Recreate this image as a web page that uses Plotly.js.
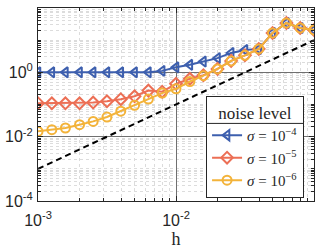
<!DOCTYPE html>
<html>
<head>
<meta charset="utf-8">
<script src="https://cdn.plot.ly/plotly-3.0.1.min.js"></script>
<style>
html,body{margin:0;padding:0;background:#fff;}
#chart{width:326px;height:249px;}
</style>
</head>
<body>
<div id="chart"></div>
<script>
// step sizes h
const h = [0.001, 0.00126, 0.00158, 0.002, 0.00251, 0.00316, 0.00398, 0.00501, 0.00631, 0.00794,
           0.01, 0.0126, 0.0158, 0.02, 0.0251, 0.0316, 0.0398, 0.0501, 0.0631, 0.0794, 0.1];
// error for sigma = 1e-4
const err4 = [1.0, 1.0, 1.0, 1.0, 1.0, 1.0, 1.0, 1.0, 1.0, 1.11,
              1.43, 1.71, 2.16, 2.76, 4.02, 4.98, 5.35, 16.8, 34.3, 24.0, 20.8];
// error for sigma = 1e-5
const err5 = [0.109, 0.109, 0.109, 0.109, 0.115, 0.126, 0.146, 0.18, 0.27, 0.25,
              0.44, 0.63, 0.81, 1.28, 2.27, 3.37, 5.35, 16.8, 34.3, 24.0, 20.8];
// error for sigma = 1e-6
const err6 = [0.0146, 0.0165, 0.0186, 0.0236, 0.0298, 0.0408, 0.0618, 0.0948, 0.1475, 0.226,
              0.308, 0.519, 0.79, 1.28, 2.27, 3.37, 5.35, 16.8, 34.3, 24.0, 20.8];
// reference slope line O(h^2)
const refH = [0.001, 0.1];
const refErr = [0.001, 10];

const seriesNames = ['<i>σ</i> = 10<sup>−4</sup>', '<i>σ</i> = 10<sup>−5</sup>', '<i>σ</i> = 10<sup>−6</sup>'];
const legendTitle = 'noise level';
const xTitle = 'h';
const xTickVals = [0.001, 0.01, 0.1];
const xTickText = ['10<sup>-3</sup>', '10<sup>-2</sup>', '10<sup>-1</sup>'];
const yTickVals = [0.0001, 0.01, 1, 100];
const yTickText = ['10<sup>-4</sup>', '10<sup>-2</sup>', '10<sup>0</sup>', '10<sup>2</sup>'];

const colors = ['#3d5fae', '#ec6f55', '#f3b33a'];
const symbols = ['triangle-left-open', 'diamond-open', 'circle-open'];
const ys = [err4, err5, err6];

const traces = [{
  x: refH, y: refErr, mode: 'lines', showlegend: false,
  line: {color: '#000', width: 2, dash: '6px,4px'}
}];
for (let i = 0; i < 3; i++) {
  traces.push({
    x: h, y: ys[i], mode: 'lines+markers', name: seriesNames[i],
    line: {color: colors[i], width: 2},
    marker: {symbol: symbols[i], size: 9, color: colors[i], line: {width: 2, color: colors[i]}}
  });
}

const axisCommon = {
  type: 'log', showline: true, linecolor: '#262626', linewidth: 1, mirror: 'allticks',
  ticks: 'inside', ticklen: 5, tickcolor: '#262626', showgrid: true, gridcolor: '#707070', gridwidth: 1,
  zeroline: false, tickfont: {family: 'Liberation Sans, Arial, sans-serif', size: 16, color: '#262626'},
  minor: {dtick: 'D1', ticks: 'inside', ticklen: 3, tickcolor: '#262626', showgrid: true,
          gridcolor: '#dcdcdc', griddash: 'dot', gridwidth: 1}
};

const layout = {
  width: 326, height: 249,
  margin: {l: 38, r: 12, t: 8, b: 48},
  paper_bgcolor: '#fff', plot_bgcolor: '#fff',
  xaxis: Object.assign({}, axisCommon, {
    range: [-3, -1], tickvals: xTickVals, ticktext: xTickText, ticklabelstandoff: 5,
    title: {text: xTitle, font: {family: 'Liberation Serif, serif', size: 18, color: '#262626'}, standoff: 2}
  }),
  yaxis: Object.assign({}, axisCommon, {
    range: [-4, 2], tickvals: yTickVals, ticktext: yTickText, ticklabelstandoff: 1
  }),
  legend: {
    x: 0.964, xanchor: 'right', y: 0.545, yanchor: 'top',
    bgcolor: 'rgba(0,0,0,0)', bordercolor: '#262626', borderwidth: 1,
    font: {family: 'Liberation Serif, serif', size: 15, color: '#262626'},
    title: {text: legendTitle, side: 'top center', font: {family: 'Liberation Serif, serif', size: 17, color: '#262626'}},
    itemwidth: 30, tracegroupgap: 0
  },
  showlegend: true
};

Plotly.newPlot('chart', traces, layout, {displayModeBar: false, staticPlot: true}).then(function (gd) {
  // white backing box and separator line under the (transparent) legend
  const root = gd.getBoundingClientRect();
  const bg = gd.querySelector('.legend .bg').getBoundingClientRect();
  const tt = gd.querySelector('.legend .legendtitletext').getBoundingClientRect();
  const first = gd.querySelector('.legend .traces').getBoundingClientRect();
  const fl = gd._fullLayout;
  const sepY = (tt.bottom + first.top) / 2 - root.top;
  const toPx = function (px) { return (px - root.left - fl._size.l) / fl._size.w; };
  const toPy = function (py) { return 1 - (py - root.top - fl._size.t) / fl._size.h; };
  Plotly.relayout(gd, {shapes: [
    {type: 'rect', xref: 'paper', yref: 'paper',
     x0: toPx(bg.left), x1: toPx(bg.right), y0: toPy(bg.top), y1: toPy(bg.bottom),
     fillcolor: '#fff', line: {width: 0}, layer: 'above'},
    {type: 'line', xref: 'paper', yref: 'paper',
     x0: toPx(bg.left), x1: toPx(bg.right), y0: 1 - (sepY - fl._size.t) / fl._size.h, y1: 1 - (sepY - fl._size.t) / fl._size.h,
     line: {color: '#262626', width: 1}, layer: 'above'}
  ]});
});
</script>
</body>
</html>
